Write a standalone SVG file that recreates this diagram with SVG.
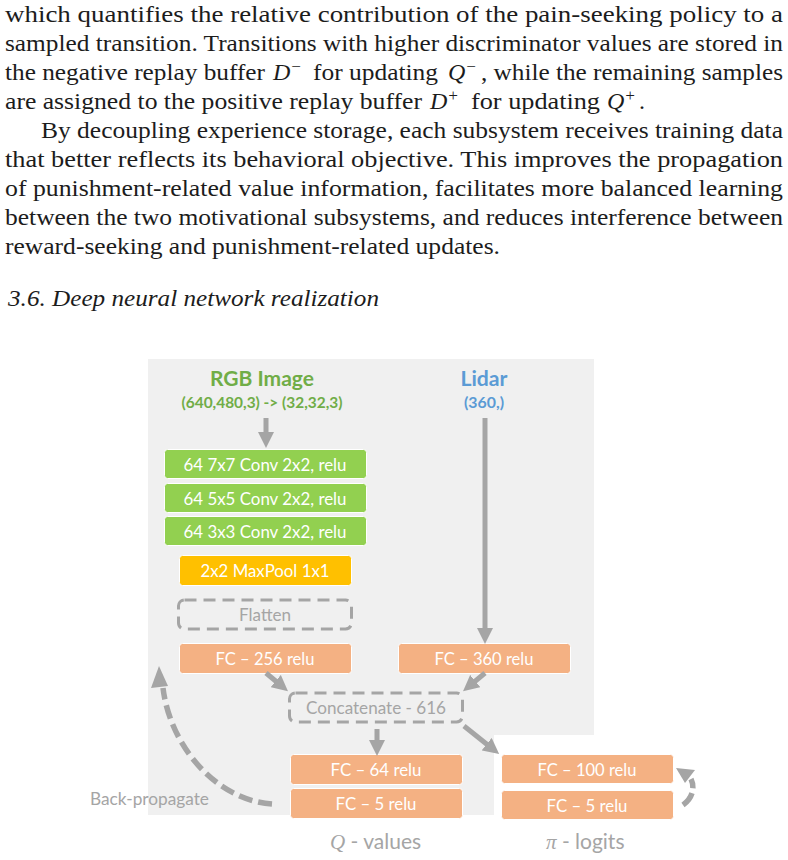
<svg xmlns="http://www.w3.org/2000/svg" width="788" height="860" viewBox="0 0 788 860">
<style>
.b{font-family:"Liberation Serif","Times New Roman",serif;font-size:24px;fill:#1c1c1c}
.i{font-style:italic}
.s{font-size:17px}
.n{font-family:Lato,"Open Sans",sans-serif;font-size:17px;fill:#fff;text-anchor:middle}
.g{fill:#a5a5a5}
.box{stroke:#fff;stroke-width:1}
.green{fill:#92d050}.amber{fill:#ffc000}.or{fill:#f4b183}
.dash{fill:none;stroke:#a5a5a5;stroke-width:3;stroke-dasharray:12 7}
.c{fill:none;stroke:#a5a5a5;stroke-width:5;marker-end:url(#h)}
.d{fill:none;stroke:#a5a5a5;stroke-width:5.500;stroke-dasharray:14 6}
</style>
<defs><marker id="h" markerUnits="userSpaceOnUse" markerWidth="18" markerHeight="16" refX="3" refY="8" orient="auto"><path d="M0,0L16,8L0,16z" fill="#a5a5a5"/></marker></defs>
<rect width="788" height="860" fill="#fff"/>
<g id="body-text">
<text class="b" x="5" y="22" textLength="778" lengthAdjust="spacingAndGlyphs">which quantifies the relative contribution of the pain-seeking policy to a</text>
<text class="b" x="5" y="51" textLength="778" lengthAdjust="spacingAndGlyphs">sampled transition. Transitions with higher discriminator values are stored in</text>
<text class="b" x="5" y="80" textLength="260" lengthAdjust="spacingAndGlyphs">the negative replay buffer</text>
<text class="b i" x="273" y="80">D<tspan class="s" dy="-8">−</tspan></text>
<text class="b" x="313" y="80" textLength="125" lengthAdjust="spacingAndGlyphs">for updating</text>
<text class="b i" x="448" y="80">Q<tspan class="s" dy="-8">−</tspan></text>
<text class="b" x="481" y="80" textLength="302" lengthAdjust="spacingAndGlyphs">, while the remaining samples</text>
<text class="b" x="5" y="109" textLength="417" lengthAdjust="spacingAndGlyphs">are assigned to the positive replay buffer</text>
<text class="b i" x="430" y="109">D<tspan class="s" dy="-8">+</tspan></text>
<text class="b" x="471" y="109" textLength="129" lengthAdjust="spacingAndGlyphs">for updating</text>
<text class="b i" x="607" y="109">Q<tspan class="s" dy="-8">+</tspan></text>
<text class="b" x="639" y="109">.</text>
<text class="b" x="41" y="138" textLength="742" lengthAdjust="spacingAndGlyphs">By decoupling experience storage, each subsystem receives training data</text>
<text class="b" x="5" y="167" textLength="778" lengthAdjust="spacingAndGlyphs">that better reflects its behavioral objective. This improves the propagation</text>
<text class="b" x="5" y="196" textLength="778" lengthAdjust="spacingAndGlyphs">of punishment-related value information, facilitates more balanced learning</text>
<text class="b" x="5" y="225" textLength="778" lengthAdjust="spacingAndGlyphs">between the two motivational subsystems, and reduces interference between</text>
<text class="b" x="5" y="254" textLength="495" lengthAdjust="spacingAndGlyphs">reward-seeking and punishment-related updates.</text>
<text class="b i" x="8" y="306" textLength="371" lengthAdjust="spacingAndGlyphs">3.6. Deep neural network realization</text>
</g>
<polygon id="panel" points="148,359 594,359 594,735 494,735 494,815 148,815" fill="#f0f0f0"/>
<g id="rgb-label"><text x="262" y="386" text-anchor="middle" font-family="Lato,sans-serif" font-weight="700" font-size="21" fill="#70ad47" textLength="104" lengthAdjust="spacingAndGlyphs">RGB Image</text>
<text x="262" y="408" text-anchor="middle" font-family="Lato,sans-serif" font-weight="700" font-size="15" fill="#70ad47" textLength="161" lengthAdjust="spacingAndGlyphs">(640,480,3) -&gt; (32,32,3)</text></g>
<g id="lidar-label"><text x="484" y="386" text-anchor="middle" font-family="Lato,sans-serif" font-weight="700" font-size="21" fill="#5b9bd5" textLength="47" lengthAdjust="spacingAndGlyphs">Lidar</text>
<text x="484" y="408" text-anchor="middle" font-family="Lato,sans-serif" font-weight="700" font-size="15" fill="#5b9bd5" textLength="40" lengthAdjust="spacingAndGlyphs">(360,)</text></g>
<g id="conv1"><rect class="box green" x="164.500" y="449.500" width="202" height="29" rx="3"/><text class="n" x="265" y="471" textLength="163" lengthAdjust="spacingAndGlyphs">64 7x7 Conv 2x2, relu</text></g>
<g id="conv2"><rect class="box green" x="164.500" y="483.500" width="202" height="29" rx="3"/><text class="n" x="265" y="505" textLength="163" lengthAdjust="spacingAndGlyphs">64 5x5 Conv 2x2, relu</text></g>
<g id="conv3"><rect class="box green" x="164.500" y="516.500" width="202" height="29" rx="3"/><text class="n" x="265" y="538" textLength="163" lengthAdjust="spacingAndGlyphs">64 3x3 Conv 2x2, relu</text></g>
<g id="maxpool"><rect class="box amber" x="179.500" y="555.500" width="172" height="30" rx="3"/><text class="n" x="265" y="577" textLength="129" lengthAdjust="spacingAndGlyphs">2x2 MaxPool 1x1</text></g>
<g id="flatten"><rect class="dash" x="178.500" y="600" width="173" height="29" rx="6"/><text class="n g" x="265" y="621" textLength="52" lengthAdjust="spacingAndGlyphs">Flatten</text></g>
<g id="fc256"><rect class="box or" x="179.500" y="643.500" width="172" height="30" rx="3"/><text class="n" x="265" y="665" textLength="99" lengthAdjust="spacingAndGlyphs">FC – 256 relu</text></g>
<g id="fc360"><rect class="box or" x="398.500" y="643.500" width="172" height="30" rx="3"/><text class="n" x="484" y="665" textLength="99" lengthAdjust="spacingAndGlyphs">FC – 360 relu</text></g>
<g id="concat"><rect class="dash" x="289.500" y="693" width="173" height="29" rx="6"/><text class="n g" x="376" y="714" textLength="140" lengthAdjust="spacingAndGlyphs">Concatenate - 616</text></g>
<g id="fc64"><rect class="box or" x="290.500" y="754.500" width="172" height="30" rx="3"/><text class="n" x="376" y="776" textLength="91" lengthAdjust="spacingAndGlyphs">FC – 64 relu</text></g>
<g id="fc5q"><rect class="box or" x="290.500" y="788.500" width="172" height="30" rx="3"/><text class="n" x="376" y="810" textLength="81" lengthAdjust="spacingAndGlyphs">FC – 5 relu</text></g>
<g id="fc100"><rect class="box or" x="501.500" y="754.500" width="172" height="29" rx="3"/><text class="n" x="587" y="776" textLength="99" lengthAdjust="spacingAndGlyphs">FC – 100 relu</text></g>
<g id="fc5pi"><rect class="box or" x="501.500" y="790.500" width="172" height="29" rx="3"/><text class="n" x="587" y="812" textLength="81" lengthAdjust="spacingAndGlyphs">FC – 5 relu</text></g>
<g id="connectors">
<path class="c" d="M266,418V435"/>
<path class="c" d="M485,418V631"/>
<path class="c" d="M266,673L278,683"/>
<path class="c" d="M485,673L473,683"/>
<path class="c" d="M377,729V743"/>
<path class="c" d="M464,726L489,746"/>
<path class="d" d="M272,804C215,800 170,745 163,688"/>
<path d="M159,666L168,686L151,688z" fill="#a5a5a5"/>
<path class="d" style="stroke-dasharray:15 5" d="M683,805C693,798 695,787 691,779"/>
<path d="M676,768L695,770L685,783z" fill="#a5a5a5"/>
</g>
<g id="captions">
<text x="90" y="805" font-family="Lato,sans-serif" font-size="17" fill="#a5a5a5" textLength="119" lengthAdjust="spacingAndGlyphs">Back-propagate</text>
<text x="330" y="849" font-family="Lato,sans-serif" font-size="21" fill="#a5a5a5"><tspan font-family="Liberation Serif,serif" font-style="italic">Q</tspan> - values</text>
<text x="546" y="849" font-family="Lato,sans-serif" font-size="21" fill="#a5a5a5"><tspan font-family="Liberation Serif,serif" font-style="italic">π</tspan> - logits</text>
</g>
</svg>
